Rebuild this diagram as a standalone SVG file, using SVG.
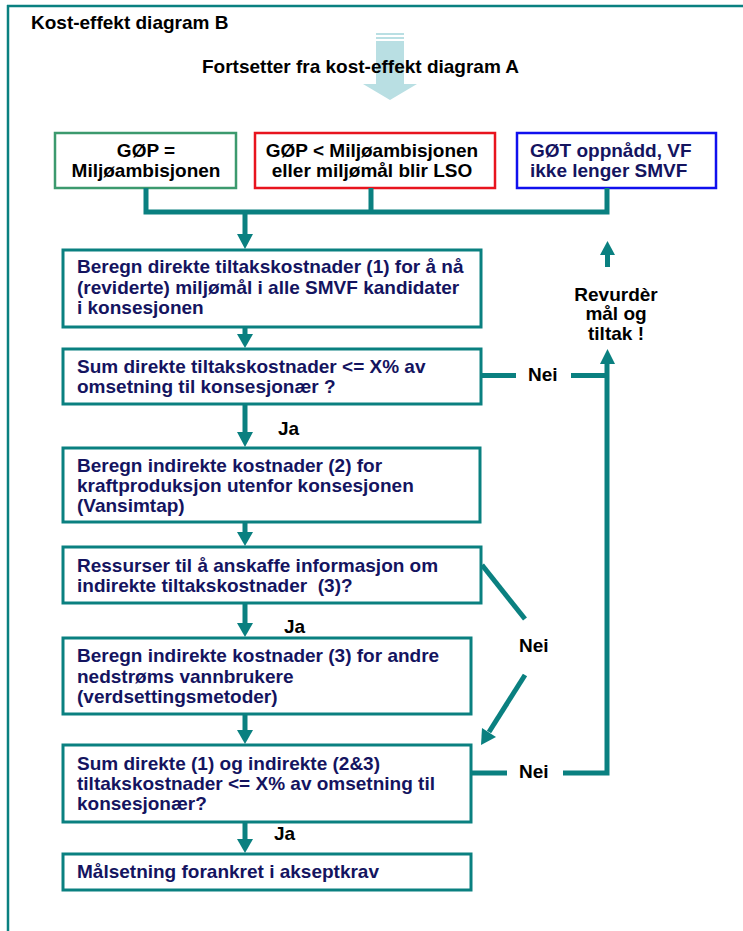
<svg xmlns="http://www.w3.org/2000/svg" width="743" height="931" viewBox="0 0 743 931">
<style>
text{font-family:"Liberation Sans",Arial,sans-serif;font-weight:bold;font-size:19px}
.nv{fill:#14145f}
.bk{fill:#000}
.box{fill:#fff;stroke:#0a8080;stroke-width:3}
.ln{fill:none;stroke:#0a8080;stroke-width:5}
.hd{fill:#0a8080}
.mid{text-anchor:middle}
</style>
<rect width="743" height="931" fill="#fff"/>
<g id="frame">
<line x1="7" y1="6" x2="743" y2="6" stroke="#0a8080" stroke-width="2.5"/>
<line x1="8" y1="5" x2="8" y2="931" stroke="#0a8080" stroke-width="2.5"/>
</g>
<g id="title"><text class="bk" x="31" y="29">Kost-effekt diagram B</text></g>
<g id="start">
<rect x="376" y="33" width="28" height="2" fill="#b9dfe3"/>
<rect x="376" y="37" width="28" height="2" fill="#b9dfe3"/>
<rect x="376" y="41" width="28" height="43" fill="#b9dfe3"/>
<polygon points="363,84 417,84 390,100" fill="#b9dfe3"/>
<text class="bk" x="202" y="73">Fortsetter fra kost-effekt diagram A</text>
</g>
<g id="n-gop">
<rect x="55" y="133" width="181" height="55" fill="#fff" stroke="#3c9a6e" stroke-width="2.5"/>
<text class="bk mid" x="146" y="157">GØP =</text>
<text class="bk mid" x="146" y="177">Miljøambisjonen</text>
</g>
<g id="n-gop-lt">
<rect x="255" y="133" width="240" height="55" fill="#fff" stroke="#e8141e" stroke-width="2.5"/>
<text class="bk mid" x="372" y="157">GØP &lt; Miljøambisjonen</text>
<text class="bk mid" x="372" y="177">eller miljømål blir LSO</text>
</g>
<g id="n-got">
<rect x="517" y="133" width="199" height="55" fill="#fff" stroke="#1010ee" stroke-width="2.5"/>
<text class="nv" x="530" y="157">GØT oppnådd, VF</text>
<text class="nv" x="530" y="177">ikke lenger SMVF</text>
</g>
<g id="n1">
<rect class="box" x="63" y="250" width="418" height="77"/>
<text class="nv" x="77" y="273">Beregn direkte tiltakskostnader (1) for å nå</text>
<text class="nv" x="77" y="293.5">(reviderte) miljømål i alle SMVF kandidater</text>
<text class="nv" x="77" y="314">i konsesjonen</text>
</g>
<g id="n2">
<rect class="box" x="63" y="349" width="418" height="55"/>
<text class="nv" x="77" y="373">Sum direkte tiltakskostnader &lt;= X% av</text>
<text class="nv" x="77" y="393">omsetning til konsesjonær ?</text>
</g>
<g id="n3">
<rect class="box" x="63" y="448" width="417" height="74"/>
<text class="nv" x="77" y="472">Beregn indirekte kostnader (2) for</text>
<text class="nv" x="77" y="492">kraftproduksjon utenfor konsesjonen</text>
<text class="nv" x="77" y="512">(Vansimtap)</text>
</g>
<g id="n4">
<rect class="box" x="63" y="547" width="418" height="56"/>
<text class="nv" x="77" y="572">Ressurser til å anskaffe informasjon om</text>
<text class="nv" x="77" y="592">indirekte tiltakskostnader&#160; (3)?</text>
</g>
<g id="n5">
<rect class="box" x="63" y="638" width="408" height="76"/>
<text class="nv" x="77" y="662">Beregn indirekte kostnader (3) for andre</text>
<text class="nv" x="77" y="683">nedstrøms vannbrukere</text>
<text class="nv" x="77" y="703">(verdsettingsmetoder)</text>
</g>
<g id="n6">
<rect class="box" x="63" y="745" width="408" height="77"/>
<text class="nv" x="77" y="770">Sum direkte (1) og indirekte (2&amp;3)</text>
<text class="nv" x="77" y="790">tiltakskostnader &lt;= X% av omsetning til</text>
<text class="nv" x="77" y="810">konsesjonær?</text>
</g>
<g id="n7">
<rect class="box" x="63" y="854" width="408" height="36"/>
<text class="nv" x="77" y="878">Målsetning forankret i akseptkrav</text>
</g>
<g id="n-revurder">
<text class="bk mid" x="616" y="301">Revurdèr</text>
<text class="bk mid" x="616" y="320">mål og</text>
<text class="bk mid" x="616" y="340">tiltak !</text>
</g>
<g id="connectors">
<path class="ln" d="M146,188 V212 M371,188 V212 M607,188 V212 M143.5,212 H609.5 M245,212 V235"/>
<polygon class="hd" points="237,234 253,234 245,249"/>
<path class="ln" d="M245,327 V335"/>
<polygon class="hd" points="237,334 253,334 245,348"/>
<path class="ln" d="M245,404 V433"/>
<polygon class="hd" points="237,432 253,432 245,447"/>
<text class="bk" x="278" y="435">Ja</text>
<path class="ln" d="M245,522 V533"/>
<polygon class="hd" points="237,532 253,532 245,546"/>
<path class="ln" d="M245,603 V624"/>
<polygon class="hd" points="237,623 253,623 245,637"/>
<text class="bk" x="284" y="633">Ja</text>
<path class="ln" d="M245,714 V731"/>
<polygon class="hd" points="237,730 253,730 245,744"/>
<path class="ln" d="M245,822 V840"/>
<polygon class="hd" points="237,839 253,839 245,853"/>
<text class="bk" x="274" y="840">Ja</text>
<path class="ln" d="M481,375.5 H516 M571,375.5 H607"/>
<text class="bk" x="528" y="381">Nei</text>
<path class="ln" d="M472,773 H507 M563,773 H607 V363"/>
<polygon class="hd" points="600,364 615,364 607.5,349"/>
<text class="bk" x="519" y="778">Nei</text>
<path class="ln" d="M482,565 L525,619"/>
<text class="bk" x="519" y="652">Nei</text>
<path class="ln" d="M525,675 L489,732"/>
<polygon class="hd" points="496,737 482,728 481,745"/>
<path class="ln" d="M607.5,267 V254"/>
<polygon class="hd" points="600,255 615,255 607.5,241"/>
</g>
</svg>
